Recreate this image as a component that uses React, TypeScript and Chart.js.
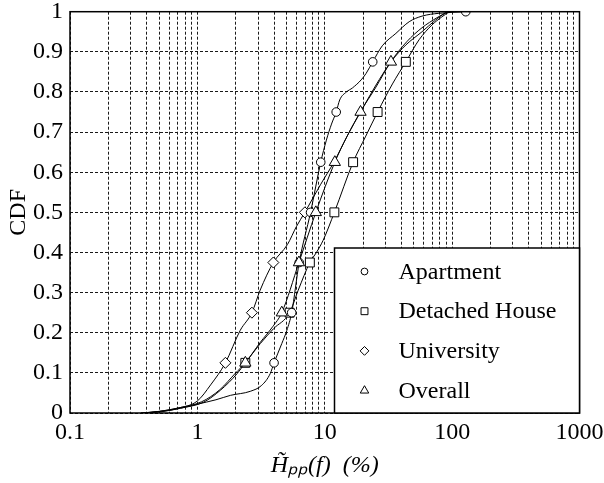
import React, { useEffect, useRef } from 'react';
import { Chart, registerables } from 'chart.js';
import { drawPoint } from 'chart.js/helpers';

Chart.register(...registerables);

// ---- data (x = H̃pp(f) in %, y = CDF) ----
const seriesNames = ['Apartment', 'Detached House', 'University', 'Overall'];
const seriesStyles = ['circle', 'rect', 'rectRot', 'triangle'];

const apartmentX = [0.36, 0.52, 0.74, 1.0, 1.4, 1.82, 2.6, 3.2, 3.73, 4.0, 4.6, 5.04, 5.5, 6.3, 7.74, 9.3, 10.3, 11.3, 12.3, 13.1, 14.8, 16.5, 19.3, 21.1, 23.8, 28.3, 36.2, 46, 58, 78.7, 128];
const apartmentY = [0, 0.004, 0.012, 0.022, 0.033, 0.044, 0.054, 0.069, 0.098, 0.125, 0.173, 0.206, 0.25, 0.375, 0.5, 0.625, 0.68, 0.72, 0.75, 0.78, 0.8, 0.81, 0.83, 0.846, 0.875, 0.915, 0.946, 0.975, 0.989, 0.996, 1];
const apartmentMarkers = [0.125, 0.25, 0.375, 0.5, 0.625, 0.75, 0.875, 1];

const detachedX = [0.4, 0.52, 0.74, 1.12, 1.52, 2.05, 2.38, 3.12, 3.96, 5.3, 6.19, 7.64, 8.6, 9.7, 11.9, 16.7, 21, 26, 34, 43.3, 55, 69.5, 83, 95];
const detachedY = [0, 0.003, 0.012, 0.027, 0.057, 0.098, 0.125, 0.173, 0.21, 0.25, 0.306, 0.375, 0.4, 0.43, 0.5, 0.625, 0.69, 0.75, 0.82, 0.875, 0.93, 0.967, 0.987, 1];
const detachedMarkers = [0.125, 0.25, 0.375, 0.5, 0.625, 0.75, 0.875];

const universityX = [0.36, 0.5, 0.7, 1.0, 1.27, 1.66, 2.17, 2.68, 3.11, 3.95, 5.1, 6.0, 6.98, 9.3, 11.8, 15, 19, 25, 33, 44, 58, 76, 92];
const universityY = [0, 0.004, 0.012, 0.03, 0.07, 0.125, 0.206, 0.25, 0.306, 0.375, 0.42, 0.465, 0.5, 0.57, 0.625, 0.69, 0.75, 0.81, 0.875, 0.925, 0.96, 0.985, 1];
const universityMarkers = [0.125, 0.25, 0.375, 0.5];

const overallX = [0.38, 0.5, 0.72, 1.08, 1.5, 2.0, 2.38, 3.1, 3.9, 4.6, 6.27, 8.51, 12, 15, 19.1, 25, 33.1, 43.3, 58, 74, 88, 95];
const overallY = [0, 0.004, 0.013, 0.028, 0.058, 0.1, 0.125, 0.175, 0.215, 0.25, 0.375, 0.5, 0.625, 0.69, 0.75, 0.815, 0.875, 0.917, 0.95, 0.979, 0.996, 1];
const overallMarkers = [0.125, 0.25, 0.375, 0.5, 0.625, 0.75, 0.875];

const xTickValues = [0.1, 1, 10, 100, 1000];
const xTickLabels = ['0.1', '1', '10', '100', '1000'];
const yTickLabels = ['0', '0.1', '0.2', '0.3', '0.4', '0.5', '0.6', '0.7', '0.8', '0.9', '1'];

const xTitle = 'H̃ₚₚ(f)  (%)';
const yTitle = 'CDF';

const FONT = "'Liberation Serif', 'Times New Roman', serif";

const toPoints = (xs: number[], ys: number[]) => xs.map((x, i) => ({ x, y: ys[i] }));

const markerRadius: Record<string, number> = { circle: 4.3, rect: 6.3, rectRot: 5.5, triangle: 6.5 };
const legendRadius: Record<string, number> = { circle: 3.4, rect: 4.9, rectRot: 4.4, triangle: 4.9 };

function makeDataset(label: string, style: string, pts: { x: number; y: number }[], markers: number[], order: number) {
  const r = markerRadius[style];
  const radius = (ctx: any) => {
    const p = ctx.raw as { x: number; y: number } | undefined;
    if (!p) return 0;
    return markers.some((m) => Math.abs(m - p.y) < 1e-9) ? r : 0;
  };
  return {
    label,
    data: pts,
    showLine: true,
    borderColor: '#000',
    borderWidth: 1,
    pointStyle: style,
    pointRadius: radius,
    pointHoverRadius: radius,
    pointBorderWidth: 1,
    pointBorderColor: '#000',
    pointBackgroundColor: '#fff',
    fill: false,
    cubicInterpolationMode: 'monotone',
    order,
  };
}

// gridline positions of the log axis (1..9 per decade)
const xGridValues: number[] = [];
[0.1, 1, 10, 100].forEach((d) => {
  for (let k = 1; k <= 9; k++) xGridValues.push(+(k * d).toPrecision(6));
});
xGridValues.push(1000);

const framePlugin = {
  id: 'frameAndLegend',
  afterDatasetsDraw(chart: any) {
    const { ctx, chartArea } = chart;
    const { left, top, right, bottom } = chartArea;
    ctx.save();
    ctx.setLineDash([]);
    ctx.strokeStyle = '#000';
    ctx.lineWidth = 1.5;
    ctx.strokeRect(left, top, right - left, bottom - top);

    // legend box anchored in the lower-right corner of the plot
    const boxW = 245;
    const boxH = 165;
    const bx = right - boxW;
    const by = bottom - boxH;
    ctx.fillStyle = '#fff';
    ctx.fillRect(bx, by, boxW, boxH);
    ctx.strokeRect(bx, by, boxW, boxH);

    chart.data.datasets.forEach((ds: any, i: number) => {
      const cy = by + 23.5 + i * 39.7;
      const mx = bx + 30;
      ctx.lineWidth = 1;
      ctx.strokeStyle = '#000';
      ctx.fillStyle = '#fff';
      drawPoint(ctx, { pointStyle: ds.pointStyle, radius: legendRadius[ds.pointStyle], borderWidth: 1, rotation: 0 } as any, mx, cy);
      ctx.fillStyle = '#000';
      ctx.font = `24px ${FONT}`;
      ctx.textAlign = 'left';
      ctx.textBaseline = 'middle';
      ctx.fillText(ds.label, bx + 64, cy + 1);
    });
    ctx.restore();
  },
};

export default function App() {
  const canvasRef = useRef<HTMLCanvasElement | null>(null);

  useEffect(() => {
    if (!canvasRef.current) return;
    const chart = new Chart(canvasRef.current, {
      type: 'scatter',
      data: {
        datasets: [
          makeDataset(seriesNames[0], seriesStyles[0], toPoints(apartmentX, apartmentY), apartmentMarkers, 1),
          makeDataset(seriesNames[1], seriesStyles[1], toPoints(detachedX, detachedY), detachedMarkers, 2),
          makeDataset(seriesNames[2], seriesStyles[2], toPoints(universityX, universityY), universityMarkers, 3),
          makeDataset(seriesNames[3], seriesStyles[3], toPoints(overallX, overallY), overallMarkers, 0),
        ] as any,
      },
      options: {
        animation: false,
        responsive: false,
        devicePixelRatio: 1,
        events: [],
        layout: { padding: { top: 11.7, right: 24.5, bottom: 0, left: 0 } },
        plugins: {
          legend: { display: false },
          tooltip: { enabled: false },
        },
        scales: {
          x: {
            type: 'logarithmic',
            position: 'bottom',
            min: 0.1,
            max: 1000,
            afterBuildTicks: (scale: any) => {
              scale.ticks = xGridValues.map((v) => ({ value: v }));
            },
            afterFit: (scale: any) => {
              scale.height = 70;
              scale.paddingLeft = 0;
              scale.paddingRight = 0;
            },
            grid: { color: '#1a1a1a', lineWidth: 1, drawTicks: false },
            border: { display: false, dash: [3, 2] },
            ticks: {
              autoSkip: false,
              maxRotation: 0,
              padding: 5,
              color: '#000',
              font: { family: FONT, size: 24 },
              callback: (v: any) => {
                const i = xTickValues.findIndex((t) => Math.abs(Math.log10(t) - Math.log10(Number(v))) < 1e-6);
                return i >= 0 ? xTickLabels[i] : '';
              },
            },
            title: {
              display: true,
              text: xTitle,
              color: '#000',
              font: { family: FONT, size: 24, style: 'italic' },
              padding: { top: 0, bottom: 3 },
            },
          },
          y: {
            type: 'linear',
            min: 0,
            max: 1,
            afterFit: (scale: any) => {
              scale.width = 70;
              scale.paddingTop = 0;
              scale.paddingBottom = 0;
            },
            grid: { color: '#1a1a1a', lineWidth: 1, drawTicks: false },
            border: { display: false, dash: [3, 2] },
            ticks: {
              stepSize: 0.1,
              padding: 7,
              color: '#000',
              font: { family: FONT, size: 24 },
              callback: (_v: any, i: number) => yTickLabels[i],
            },
            title: {
              display: true,
              text: yTitle,
              color: '#000',
              font: { family: FONT, size: 24 },
              padding: { top: 4, bottom: 0 },
            },
          },
        },
      } as any,
      plugins: [framePlugin],
    });
    return () => chart.destroy();
  }, []);

  return (
    <div style={{ position: 'fixed', left: 0, top: 0, width: 604, height: 483, background: '#fff' }}>
      <canvas ref={canvasRef} width={604} height={483} style={{ display: 'block', width: 604, height: 483 }} />
    </div>
  );
}
